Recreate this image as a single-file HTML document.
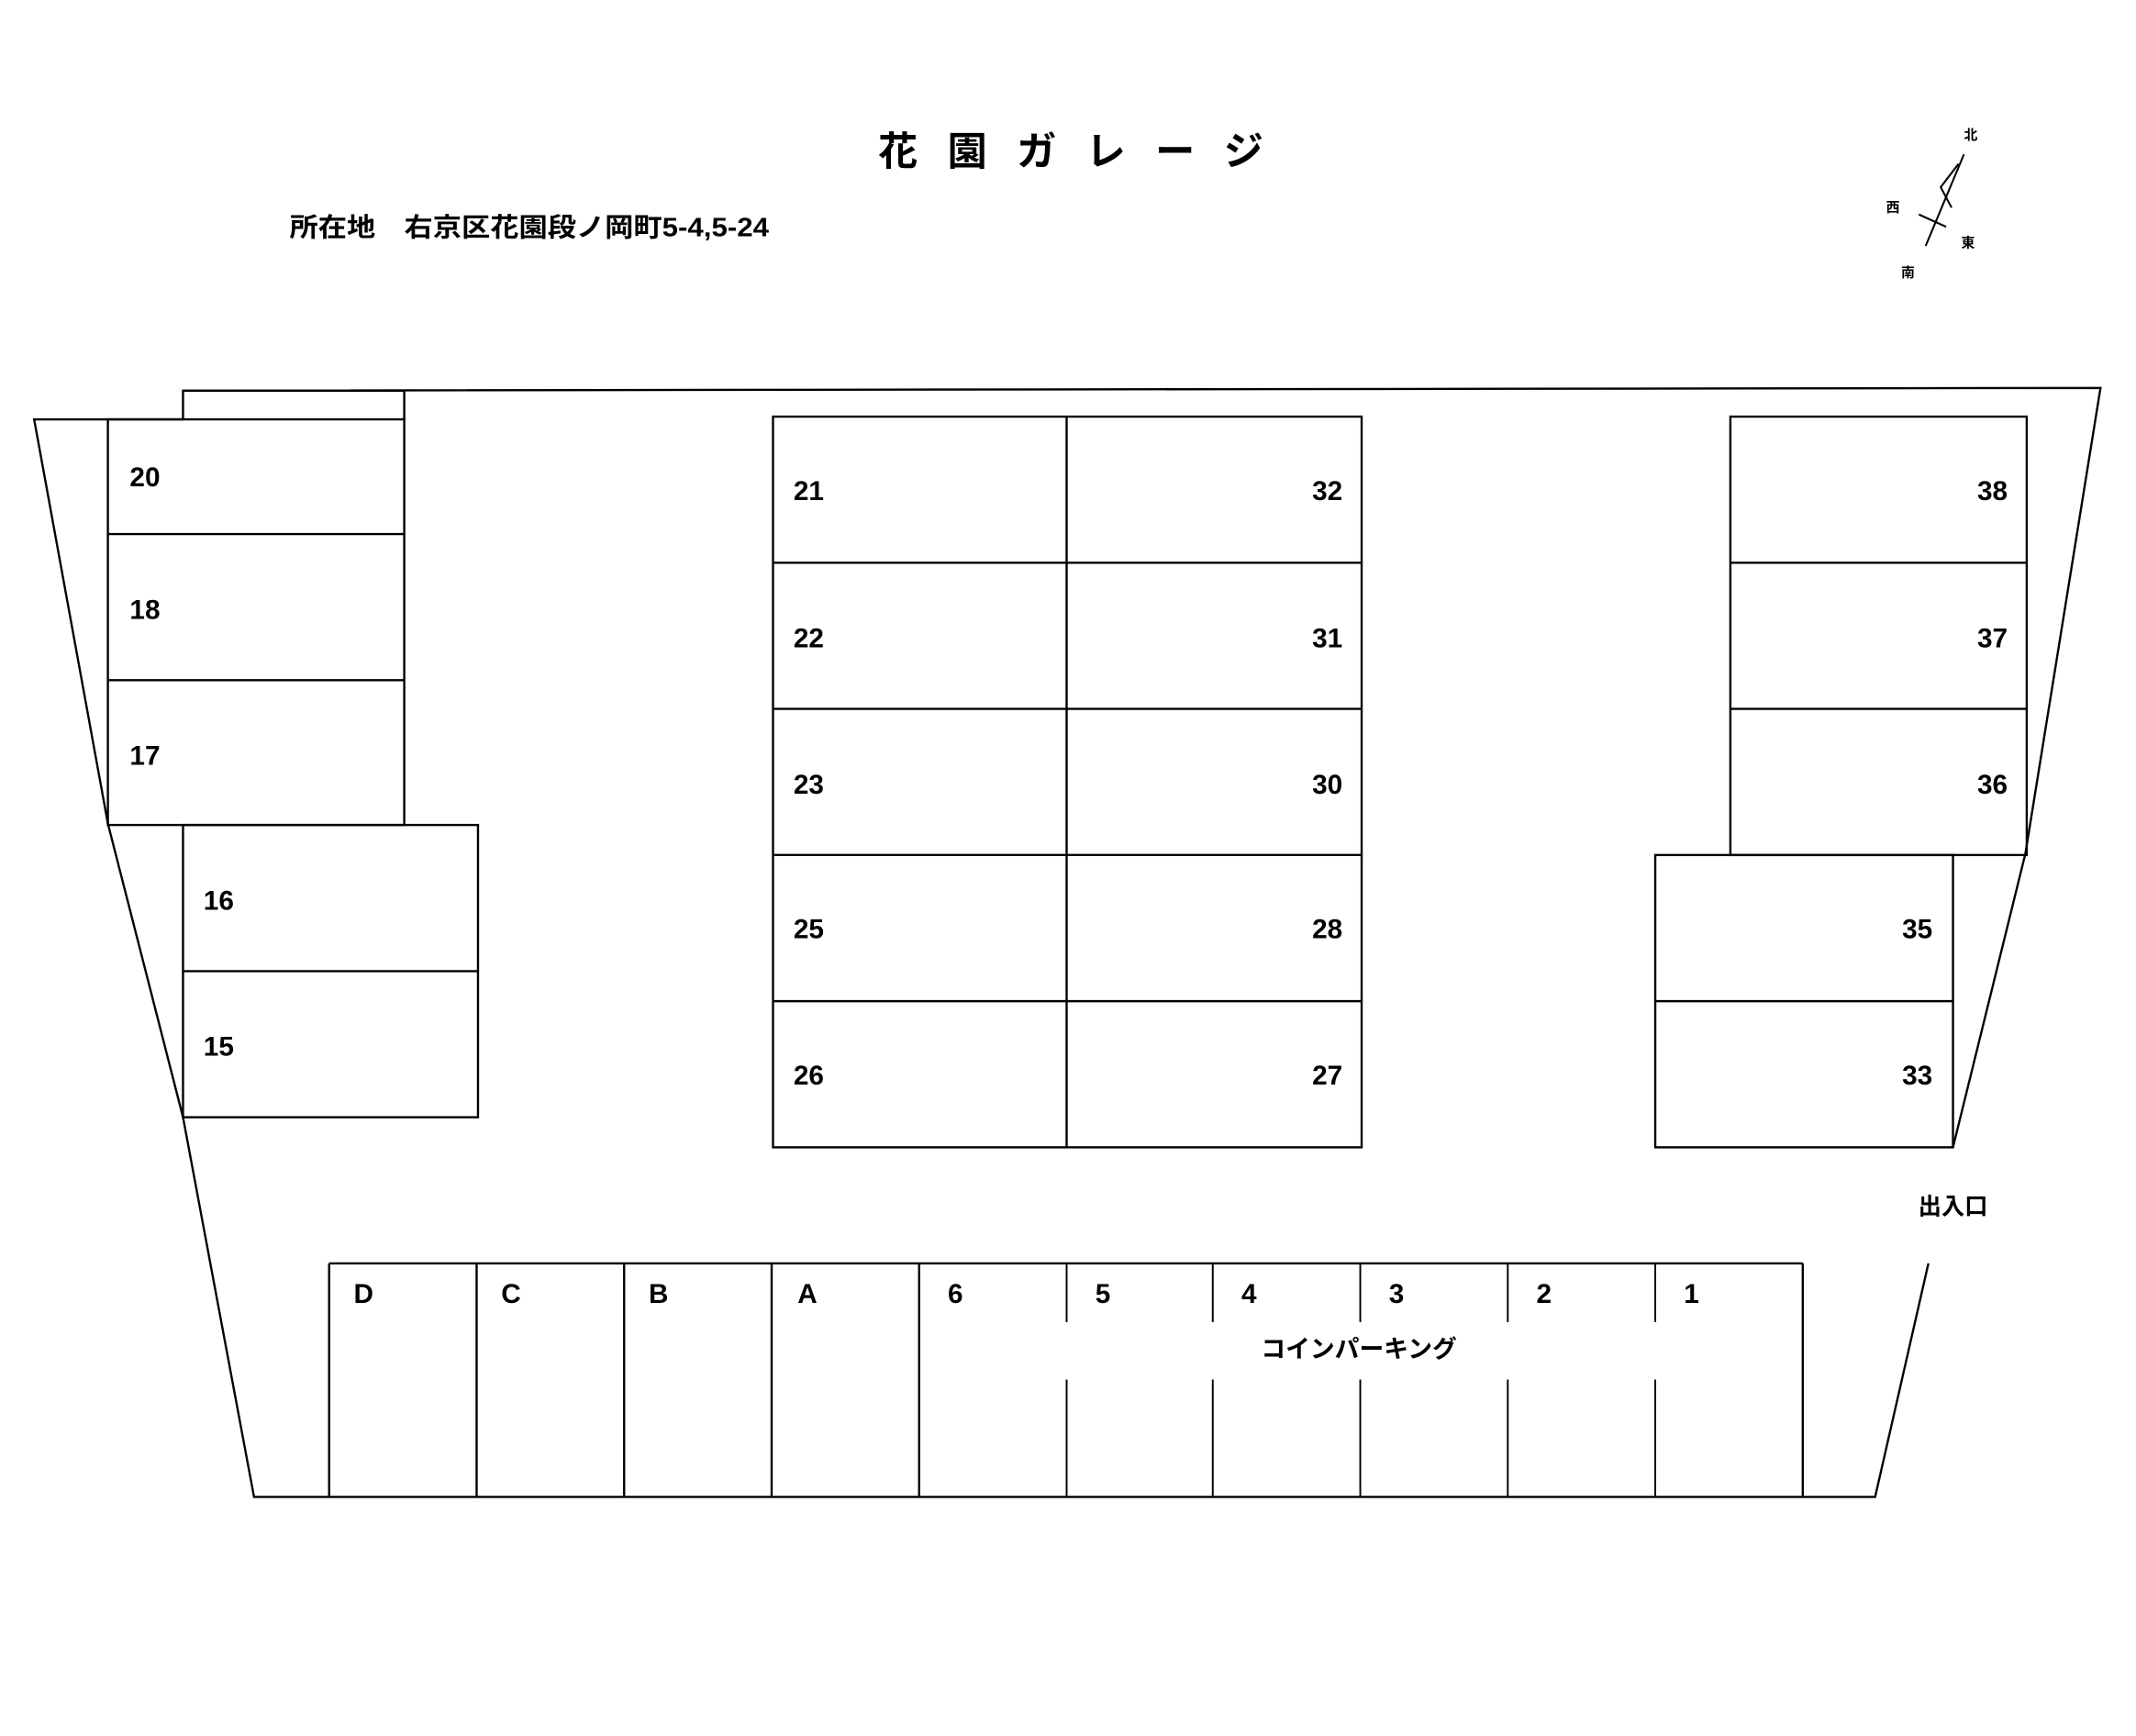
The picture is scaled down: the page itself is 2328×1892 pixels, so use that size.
<!DOCTYPE html>
<html><head><meta charset="utf-8"><style>
html,body{margin:0;padding:0;background:#fff;}
svg{display:block;}
text{font-family:"Liberation Sans","Noto Sans CJK JP",sans-serif;font-weight:bold;fill:#000;}
.n{font-size:20px;}
</style></head><body>
<svg width="2328" height="1892" viewBox="0 0 1564 1271" xmlns="http://www.w3.org/2000/svg">
<g fill="none" stroke="#000" stroke-width="1.6">
<polyline points="1412,925 1373,1096 186,1096 134,818 79,603 25,307 134,307 134,286 1538,284 1483,625 1430,840"/>
<rect x="79" y="307" width="217" height="297"/>
<line x1="134" y1="286" x2="296" y2="286"/>
<line x1="296" y1="286" x2="296" y2="307"/>
<line x1="79" y1="391" x2="296" y2="391"/>
<line x1="79" y1="498" x2="296" y2="498"/>
<rect x="134" y="604" width="216" height="214"/>
<line x1="134" y1="711" x2="350" y2="711"/>
<rect x="566" y="305" width="431" height="535"/>
<line x1="781" y1="305" x2="781" y2="840"/>
<line x1="566" y1="412" x2="997" y2="412"/>
<line x1="566" y1="519" x2="997" y2="519"/>
<line x1="566" y1="626" x2="997" y2="626"/>
<line x1="566" y1="733" x2="997" y2="733"/>
<rect x="1267" y="305" width="217" height="321"/>
<line x1="1267" y1="412" x2="1484" y2="412"/>
<line x1="1267" y1="519" x2="1484" y2="519"/>
<rect x="1212" y="626" width="218" height="214"/>
<line x1="1212" y1="733" x2="1430" y2="733"/>
<line x1="241" y1="925" x2="1320" y2="925"/>
<line x1="241" y1="925" x2="241" y2="1096"/>
<line x1="349" y1="925" x2="349" y2="1096"/>
<line x1="457" y1="925" x2="457" y2="1096"/>
<line x1="565" y1="925" x2="565" y2="1096"/>
<line x1="673" y1="925" x2="673" y2="1096"/>
<line x1="1320" y1="925" x2="1320" y2="1096"/>
<g stroke-width="1.3">
<line x1="781" y1="925" x2="781" y2="968"/><line x1="781" y1="1010" x2="781" y2="1096"/>
<line x1="888" y1="925" x2="888" y2="968"/><line x1="888" y1="1010" x2="888" y2="1096"/>
<line x1="996" y1="925" x2="996" y2="968"/><line x1="996" y1="1010" x2="996" y2="1096"/>
<line x1="1104" y1="925" x2="1104" y2="968"/><line x1="1104" y1="1010" x2="1104" y2="1096"/>
<line x1="1212" y1="925" x2="1212" y2="968"/><line x1="1212" y1="1010" x2="1212" y2="1096"/>
</g>
<g stroke-width="1.4">
<line x1="1438" y1="113" x2="1410" y2="180"/>
<polyline points="1434,120 1421,137 1429,152"/>
<line x1="1405" y1="157" x2="1425" y2="166"/>
</g>
</g>
<text x="643" y="121" font-size="29" textLength="282" lengthAdjust="spacing">花園ガレージ</text>
<text x="212" y="173" font-size="19" textLength="351" lengthAdjust="spacingAndGlyphs">所在地　右京区花園段ノ岡町5-4,5-24</text>
<g font-size="10">
<text x="1438" y="102">北</text><text x="1381" y="155">西</text><text x="1436" y="181">東</text><text x="1392" y="203">南</text>
</g>
<g class="n">
<text x="95" y="356">20</text><text x="95" y="453">18</text><text x="95" y="560">17</text>
<text x="149" y="666">16</text><text x="149" y="773">15</text>
<text x="581" y="366">21</text><text x="581" y="474">22</text><text x="581" y="581">23</text><text x="581" y="687">25</text><text x="581" y="794">26</text>
<g text-anchor="end">
<text x="983" y="366">32</text><text x="983" y="474">31</text><text x="983" y="581">30</text><text x="983" y="687">28</text><text x="983" y="794">27</text>
<text x="1470" y="366">38</text><text x="1470" y="474">37</text><text x="1470" y="581">36</text>
<text x="1415" y="687">35</text><text x="1415" y="794">33</text>
</g>
<text x="259" y="954">D</text><text x="367" y="954">C</text><text x="475" y="954">B</text><text x="584" y="954">A</text>
<text x="694" y="954">6</text><text x="802" y="954">5</text><text x="909" y="954">4</text><text x="1017" y="954">3</text><text x="1125" y="954">2</text><text x="1233" y="954">1</text>
</g>
<text x="995" y="994" font-size="18" text-anchor="middle">コインパーキング</text>
<text x="1430" y="889" font-size="17" text-anchor="middle">出入口</text>
</svg>
</body></html>
